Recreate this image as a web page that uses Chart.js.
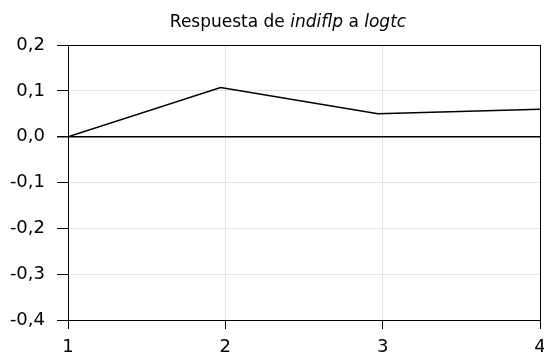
<!DOCTYPE html>
<html>
<head>
<meta charset="utf-8">
<script src="https://cdn.jsdelivr.net/npm/chart.js@4"></script>
<style>
  html, body { margin: 0; padding: 0; background: #fff; }
  #wrap { width: 544px; height: 358px; position: relative; }
</style>
</head>
<body>
<div id="wrap"><canvas id="chart"></canvas></div>
<script>
// datos
const periods = [1, 1.97, 2.97, 4];
const respuesta = [0.0, 0.107, 0.050, 0.060];
const xTicks = [1, 2, 3, 4];
const yTicks = [0.2, 0.1, 0.0, -0.1, -0.2, -0.3, -0.4];

const FONT = "'DejaVu Sans', sans-serif";
const fmt = v => v.toFixed(1).replace('.', ',');

// titulo con partes en cursiva
const titlePlugin = {
  id: 'titulo',
  afterDraw(chart) {
    const ctx = chart.ctx;
    const parts = [
      ['Respuesta de ', false],
      ['indiflp', true],
      [' a ', false],
      ['logtc', true]
    ];
    ctx.save();
    ctx.fillStyle = '#000';
    ctx.textBaseline = 'alphabetic';
    let total = 0;
    parts.forEach(p => {
      ctx.font = (p[1] ? 'italic ' : '') + '17px ' + FONT;
      total += ctx.measureText(p[0]).width;
    });
    let x = 288 - total / 2;
    parts.forEach(p => {
      ctx.font = (p[1] ? 'italic ' : '') + '17px ' + FONT;
      ctx.fillText(p[0], x, 27);
      x += ctx.measureText(p[0]).width;
    });
    ctx.restore();
  }
};

const ctx = document.getElementById('chart').getContext('2d');
new Chart(ctx, {
  type: 'line',
  data: {
    datasets: [{
      data: periods.map((p, i) => ({ x: p, y: respuesta[i] })),
      borderColor: '#000',
      borderWidth: 1.5,
      pointRadius: 0,
      tension: 0,
      fill: false
    }]
  },
  options: {
    responsive: true,
    maintainAspectRatio: false,
    animation: false,
    layout: { padding: { top: 45, right: 4, left: 0, bottom: 0 } },
    plugins: { legend: { display: false }, tooltip: { enabled: false } },
    scales: {
      x: {
        type: 'linear',
        min: 1, max: 4,
        afterBuildTicks: s => { s.ticks = xTicks.map(v => ({ value: v })); },
        afterFit: s => { s.height = 38; s.paddingLeft = 0; s.paddingRight = 0; },
        ticks: { color: '#000', font: { family: FONT, size: 18 }, padding: 8, maxRotation: 0 },
        grid: {
          color: c => c.tick && c.tick.value === 4 ? '#000' : '#e3e3e3',
          tickColor: '#000',
          tickLength: 9
        },
        border: { color: '#000', width: 1 }
      },
      y: {
        min: -0.4, max: 0.2,
        afterBuildTicks: s => { s.ticks = yTicks.map(v => ({ value: v })); },
        afterFit: s => { s.width = 68; s.paddingTop = 0; s.paddingBottom = 0; },
        ticks: { color: '#000', font: { family: FONT, size: 18 }, padding: 12, callback: v => fmt(v) },
        grid: {
          color: c => {
            const v = c.tick ? Math.round(c.tick.value * 10) : null;
            return (v === 0 || v === 2) ? '#000' : '#e3e3e3';
          },
          lineWidth: c => c.tick && Math.round(c.tick.value * 10) === 0 ? 1.5 : 1,
          tickColor: '#000',
          tickLength: 11
        },
        border: { color: '#000', width: 1 }
      }
    }
  },
  plugins: [titlePlugin]
});
</script>
</body>
</html>
